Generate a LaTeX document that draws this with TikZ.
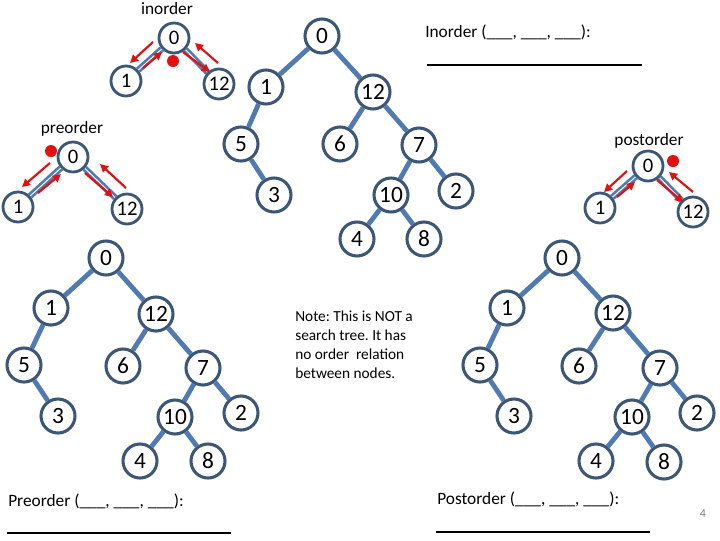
\documentclass[tikz,border=0pt]{standalone}
\usepackage{fontspec}
\setmainfont{Carlito}
\usetikzlibrary{arrows.meta}
\definecolor{nodeline}{RGB}{60,86,120}
\definecolor{edgeblue}{RGB}{79,123,178}
\definecolor{arrowred}{RGB}{228,16,16}
\pgfdeclarelayer{bg}
\pgfsetlayers{bg,main}
\frenchspacing
\begin{document}
\begin{tikzpicture}[x=0.75pt,y=-0.75pt,
  big/.style={circle,draw=nodeline,line width=2.3pt,fill=white,minimum size=25.5pt,inner sep=0pt,font=\fontsize{17.5}{17.5}\selectfont},
  small/.style={circle,draw=nodeline,line width=2.1pt,fill=white,minimum size=22.5pt,inner sep=0pt,font=\fontsize{15.5}{15.5}\selectfont},
  tedge/.style={draw=edgeblue,line width=3.6pt},
  dedge/.style={draw=edgeblue,line width=2pt,double=white,double distance=0.7pt},
  redarrow/.style={draw=arrowred,line width=1.6pt,-{Triangle[length=6pt,width=6pt]}},
  reddot/.style={circle,fill=arrowred,minimum size=9pt,inner sep=0pt},
  label/.style={font=\fontsize{13}{13}\selectfont,inner sep=0pt},
  blank/.style={font=\fontsize{13}{13}\selectfont,inner sep=0pt,anchor=west},
  rule/.style={draw=black,line width=1pt}
]
\useasboundingbox (0,0) rectangle (720,540);

% ---------- small inorder tree ----------
\node[label] (linorder) at (167,9) {inorder};
\node[small] (i0) at (174,38) {0};
\node[small] (i1) at (126,81) {1};
\node[small] (i12) at (219,84) {12};
\node[reddot] (idot) at (173,61) {};
\begin{pgfonlayer}{bg}
\draw[dedge] (i0) -- (i1);
\draw[dedge] (i0) -- (i12);
\end{pgfonlayer}
\coordinate (ia1s) at (153,42); \coordinate (ia1e) at (130,63);
\coordinate (ia2s) at (143,68); \coordinate (ia2e) at (162,52);
\coordinate (ia3s) at (183,52); \coordinate (ia3e) at (210,72);
\coordinate (ia4s) at (218,63); \coordinate (ia4e) at (195,43);
\draw[redarrow] (ia1s) -- (ia1e);
\draw[redarrow] (ia2s) -- (ia2e);
\draw[redarrow] (ia3s) -- (ia3e);
\draw[redarrow] (ia4s) -- (ia4e);

% ---------- small preorder tree ----------
\node[label] (lpreorder) at (72,129) {preorder};
\node[small] (p0) at (73,157) {0};
\node[small] (p1) at (18,207) {1};
\node[small] (p12) at (127,209) {12};
\node[reddot] (pdot) at (51,151) {};
\begin{pgfonlayer}{bg}
\draw[dedge] (p0) -- (p1);
\draw[dedge] (p0) -- (p12);
\end{pgfonlayer}
\coordinate (pa1s) at (50,163); \coordinate (pa1e) at (22,187);
\coordinate (pa2s) at (38,193); \coordinate (pa2e) at (61,174);
\coordinate (pa3s) at (85,173); \coordinate (pa3e) at (113,197);
\coordinate (pa4s) at (126,188); \coordinate (pa4e) at (100,164);
\draw[redarrow] (pa1s) -- (pa1e);
\draw[redarrow] (pa2s) -- (pa2e);
\draw[redarrow] (pa3s) -- (pa3e);
\draw[redarrow] (pa4s) -- (pa4e);

% ---------- small postorder tree ----------
\node[label] (lpostorder) at (649,141) {postorder};
\node[small] (q0) at (648,166) {0};
\node[small] (q1) at (600,208) {1};
\node[small] (q12) at (693,212) {12};
\node[reddot] (qdot) at (673,161) {};
\begin{pgfonlayer}{bg}
\draw[dedge] (q0) -- (q1);
\draw[dedge] (q0) -- (q12);
\end{pgfonlayer}
\coordinate (qa1s) at (627,171); \coordinate (qa1e) at (604,192);
\coordinate (qa2s) at (617,197); \coordinate (qa2e) at (635,182);
\coordinate (qa3s) at (657,180); \coordinate (qa3e) at (683,202);
\coordinate (qa4s) at (693,192); \coordinate (qa4e) at (669,172);
\draw[redarrow] (qa1s) -- (qa1e);
\draw[redarrow] (qa2s) -- (qa2e);
\draw[redarrow] (qa3s) -- (qa3e);
\draw[redarrow] (qa4s) -- (qa4e);

% ---------- top tree ----------
\node[big] (t0) at (322,36) {0};
\node[big] (t1) at (266,87) {1};
\node[big] (t12) at (373,92) {12};
\node[big] (t5) at (241,144) {5};
\node[big] (t6) at (340,144) {6};
\node[big] (t7) at (419,145) {7};
\node[big] (t3) at (274,195) {3};
\node[big] (t10) at (391,195) {10};
\node[big] (t2) at (456,191) {2};
\node[big] (t4) at (357,239) {4};
\node[big] (t8) at (424,239) {8};
\begin{pgfonlayer}{bg}
\draw[tedge] (t0) -- (t1);
\draw[tedge] (t0) -- (t12);
\draw[tedge] (t1) -- (t5);
\draw[tedge] (t5) -- (t3);
\draw[tedge] (t12) -- (t6);
\draw[tedge] (t12) -- (t7);
\draw[tedge] (t7) -- (t10);
\draw[tedge] (t7) -- (t2);
\draw[tedge] (t10) -- (t4);
\draw[tedge] (t10) -- (t8);
\end{pgfonlayer}

% ---------- bottom-left tree ----------
\node[big] (l0) at (106,258) {0};
\node[big] (l1) at (51,308) {1};
\node[big] (l12) at (156,314) {12};
\node[big] (l5) at (24,365) {5};
\node[big] (l6) at (123,366) {6};
\node[big] (l7) at (203,368) {7};
\node[big] (l3) at (58,416) {3};
\node[big] (l10) at (175,417) {10};
\node[big] (l2) at (241,413) {2};
\node[big] (l4) at (140,461) {4};
\node[big] (l8) at (208,461) {8};
\begin{pgfonlayer}{bg}
\draw[tedge] (l0) -- (l1);
\draw[tedge] (l0) -- (l12);
\draw[tedge] (l1) -- (l5);
\draw[tedge] (l5) -- (l3);
\draw[tedge] (l12) -- (l6);
\draw[tedge] (l12) -- (l7);
\draw[tedge] (l7) -- (l10);
\draw[tedge] (l7) -- (l2);
\draw[tedge] (l10) -- (l4);
\draw[tedge] (l10) -- (l8);
\end{pgfonlayer}

% ---------- bottom-right tree ----------
\node[big] (r0) at (562,258) {0};
\node[big] (r1) at (507,308) {1};
\node[big] (r12) at (613,313) {12};
\node[big] (r5) at (480,365) {5};
\node[big] (r6) at (579,366) {6};
\node[big] (r7) at (660,368) {7};
\node[big] (r3) at (514,416) {3};
\node[big] (r10) at (632,417) {10};
\node[big] (r2) at (697,413) {2};
\node[big] (r4) at (596,461) {4};
\node[big] (r8) at (664,462) {8};
\begin{pgfonlayer}{bg}
\draw[tedge] (r0) -- (r1);
\draw[tedge] (r0) -- (r12);
\draw[tedge] (r1) -- (r5);
\draw[tedge] (r5) -- (r3);
\draw[tedge] (r12) -- (r6);
\draw[tedge] (r12) -- (r7);
\draw[tedge] (r7) -- (r10);
\draw[tedge] (r7) -- (r2);
\draw[tedge] (r10) -- (r4);
\draw[tedge] (r10) -- (r8);
\end{pgfonlayer}

% ---------- texts ----------
\node[blank] (tin) at (425,32) {Inorder (\_\_\_, \_\_\_, \_\_\_):};
\coordinate (uin1) at (427,65); \coordinate (uin2) at (642,65);
\draw[rule] (uin1) -- (uin2);

\node[blank] (tpre) at (8,501) {Preorder (\_\_\_, \_\_\_, \_\_\_):};
\coordinate (upre1) at (7,533); \coordinate (upre2) at (231,533);
\draw[rule] (upre1) -- (upre2);

\node[blank] (tpost) at (437,499) {Postorder (\_\_\_, \_\_\_, \_\_\_):};
\coordinate (upost1) at (436,532); \coordinate (upost2) at (650,532);
\draw[rule] (upost1) -- (upost2);

\node[anchor=west,align=left,inner sep=0pt,font=\fontsize{11.5}{14.3}\selectfont] (note) at (295,344.5)
  {Note: This is NOT a\\search tree. It has\\no order~ relation\\between nodes.};

\node[font=\fontsize{9}{9}\selectfont,text=black!50,inner sep=0pt] (pgnum) at (703,514) {4};
\end{tikzpicture}
\end{document}
